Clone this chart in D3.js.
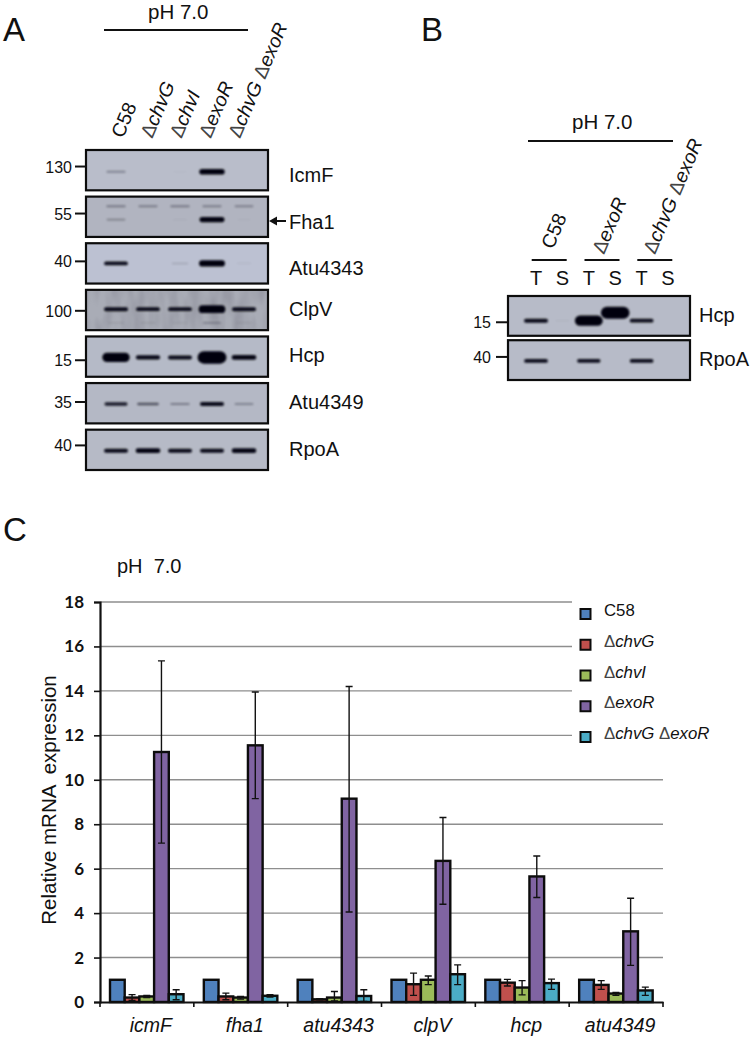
<!DOCTYPE html>
<html>
<head>
<meta charset="utf-8">
<script src="https://cdn.jsdelivr.net/npm/d3@7"></script>
<style>
    body { margin: 0; background: #fff; }
    text { font-family: "Liberation Sans", Arial, sans-serif; fill: #111; }
    .delta { fill: #444; }
</style>
</head>
<body>
<script>
//pseudo-global variables
var strainsA = ["C58", "\u0394chvG", "\u0394chvI", "\u0394exoR", "\u0394chvG \u0394exoR"];
var strainsB = ["C58", "\u0394exoR", "\u0394chvG \u0394exoR"];
var lanesB = ["T1", "S1", "T2", "S2", "T3", "S3"];
var fractions = ["T", "S", "T", "S", "T", "S"];

//blot panel A: names, size markers, band signal per lane (0 to 1) and migration inside the panel
var blotsA = ["IcmF", "Fha1", "Atu4343", "ClpV", "Hcp", "Atu4349", "RpoA"];
var markersA = ["130", "55", "40", "100", "15", "35", "40"];
var markerMigA = [0.41, 0.42, 0.45, 0.52, 0.59, 0.47, 0.39];
var icmfSignal = [0.19, 0, 0.02, 0.62, 0];
var fha1UpperSignal = [0.2, 0.19, 0.2, 0.19, 0.18];
var fha1LowerSignal = [0.18, 0, 0.03, 0.58, 0.02];
var atu4343Signal = [0.48, 0, 0.1, 0.66, 0.04];
var clpvSignal = [0.5, 0.48, 0.48, 0.72, 0.5];
var clpvSmearSignal = [0.07, 0.07, 0.05, 0.16, 0.06];
var hcpSignal = [0.78, 0.52, 0.5, 0.9, 0.55];
var atu4349Signal = [0.42, 0.3, 0.2, 0.5, 0.18];
var rpoaSignal = [0.5, 0.56, 0.5, 0.5, 0.55];

//blot panel B
var blotsB = ["Hcp", "RpoA"];
var markersB = ["15", "40"];
var markerMigB = [0.66, 0.42];
var hcpSignalB = [0.5, 0.03, 0.82, 0.88, 0.48, 0];
var hcpMigB = [0.62, 0.62, 0.62, 0.42, 0.62, 0.62];
var rpoaSignalB = [0.48, 0, 0.45, 0, 0.47, 0];

//qPCR chart values
var genes = ["icmF", "fha1", "atu4343", "clpV", "hcp", "atu4349"];
var seriesNames = ["C58", "\u0394chvG", "\u0394chvI", "\u0394exoR", "\u0394chvG \u0394exoR"];
var seriesColors = ["#4f81bd", "#c0504d", "#9bbb59", "#8064a2", "#4bacc6"];
var c58Values = [1, 1, 1, 1, 1, 1];
var chvgValues = [0.2, 0.25, 0.12, 0.8, 0.87, 0.77];
var chviValues = [0.25, 0.2, 0.2, 1.0, 0.65, 0.38];
var exorValues = [11.25, 11.55, 9.15, 6.35, 5.65, 3.18];
var doubleValues = [0.35, 0.28, 0.27, 1.25, 0.85, 0.52];
var chvgHigh = [0.33, 0.4, 0.15, 1.3, 1.02, 0.96];
var chvgLow = [0.07, 0.1, 0.1, 0.3, 0.72, 0.57];
var chviHigh = [0.3, 0.25, 0.47, 1.17, 0.96, 0.43];
var chviLow = [0.2, 0.13, 0.05, 0.78, 0.32, 0.3];
var exorHigh = [15.35, 13.95, 14.2, 8.3, 6.57, 4.67];
var exorLow = [7.15, 9.15, 4.05, 4.4, 4.7, 1.65];
var doubleHigh = [0.55, 0.33, 0.55, 1.67, 1.03, 0.67];
var doubleLow = [0.1, 0.22, 0.02, 0.78, 0.57, 0.3];
var yTicks = [0, 2, 4, 6, 8, 10, 12, 14, 16, 18];

var width = 753,
    height = 1042;

var svg = d3.select("body")
    .append("svg")
    .attr("width", width)
    .attr("height", height);

//soft edges for the film bands and a mottled film for the rough panel
var defs = svg.append("defs");
defs.append("filter").attr("id", "soft")
    .attr("x", "-30%").attr("y", "-150%").attr("width", "160%").attr("height", "400%")
    .append("feGaussianBlur").attr("stdDeviation", 0.9);
var mottle = defs.append("filter").attr("id", "mottle");
mottle.append("feTurbulence").attr("type", "fractalNoise")
    .attr("baseFrequency", "0.09 0.03").attr("numOctaves", 2).attr("seed", 4);
mottle.append("feColorMatrix").attr("values", "0 0 0 0 0.2  0 0 0 0 0.2  0 0 0 0 0.25  0 0 0 0.8 -0.25");
mottle.append("feComposite").attr("in2", "SourceGraphic").attr("operator", "in");

//signal to band shape
var bandHeight = d3.scaleLinear().domain([0, 0.25, 0.5, 0.65, 1]).range([1, 2.2, 4, 6, 15]);
var bandWidth = d3.scaleLinear().domain([0, 0.25, 0.5, 1]).range([13, 21, 24, 30]);
var bandOpacity = d3.scaleLinear().domain([0, 0.1, 0.25, 0.45, 0.6]).range([0, 0.14, 0.42, 0.92, 1]).clamp(true);

//write a strain name with an upright delta and an italic gene
function strainText(sel, name){
    name.split(" ").forEach(function(part, i){
        if (i > 0) sel.append("tspan").text(" ");
        if (part.charAt(0) == "\u0394"){
            sel.append("tspan").attr("class", "delta").text("\u0394");
            sel.append("tspan").style("font-style", "italic").text(part.slice(1));
        } else {
            sel.append("tspan").text(part);
        };
    });
};

function drawBlot(g, x, y, name, fill, bands, x0, x1){
    var panel = g.append("g").attr("transform", "translate(0," + y(name) + ")");
    var h = y.bandwidth();

    panel.append("rect")
        .attr("x", x0).attr("y", 0)
        .attr("width", x1 - x0).attr("height", h)
        .attr("fill", fill);

    if (name == "ClpV"){
        panel.append("rect")
            .attr("x", x0).attr("y", 0)
            .attr("width", x1 - x0).attr("height", h)
            .attr("fill", "#555")
            .attr("filter", "url(#mottle)");
    };

    panel.selectAll(".band")
        .data(bands)
        .enter()
        .append("rect")
        .attr("class", "band")
        .attr("x", function(d){ return x(d.lane) - bandWidth(d.signal) / 2; })
        .attr("y", function(d){ return d.mig * h - bandHeight(d.signal) / 2; })
        .attr("width", function(d){ return bandWidth(d.signal); })
        .attr("height", function(d){ return bandHeight(d.signal); })
        .attr("rx", function(d){ return bandHeight(d.signal) / 2; })
        .attr("fill", "#05060c")
        .attr("opacity", function(d){ return bandOpacity(d.signal); })
        .attr("filter", "url(#soft)");

    panel.append("rect")
        .attr("x", x0).attr("y", 0)
        .attr("width", x1 - x0).attr("height", h)
        .attr("fill", "none")
        .attr("stroke", "#0c0c0c")
        .attr("stroke-width", 2.2);
    return panel;
};

function bandsOf(lanes, signal, mig){
    return lanes.map(function(lane, i){
        return { lane: lane, signal: signal[i], mig: Array.isArray(mig) ? mig[i] : mig };
    }).filter(function(d){ return d.signal > 0; });
};

/* ---- panel A ---- */
var panelA = svg.append("g");

svg.append("text").attr("x", 3).attr("y", 41).style("font-size", "33px").text("A");
svg.append("text").attr("x", 148).attr("y", 19).style("font-size", "20.5px").text("pH 7.0");
svg.append("line").attr("x1", 104).attr("x2", 248).attr("y1", 30).attr("y2", 30)
    .attr("stroke", "#111").attr("stroke-width", 2);

var laneA = d3.scalePoint().domain(strainsA).range([116, 244]);
var labelA = d3.scalePoint().domain(strainsA).range([123, 240]);
var rowA = d3.scaleBand().domain(blotsA).range([150, 470]).paddingInner(0.135);

var bandsA = {
    "IcmF": bandsOf(strainsA, icmfSignal, 0.54),
    "Fha1": bandsOf(strainsA, fha1UpperSignal, 0.24).concat(bandsOf(strainsA, fha1LowerSignal, 0.57)),
    "Atu4343": bandsOf(strainsA, atu4343Signal, 0.5),
    "ClpV": bandsOf(strainsA, clpvSignal, 0.48).concat(bandsOf(strainsA, clpvSmearSignal, 0.82)),
    "Hcp": bandsOf(strainsA, hcpSignal, 0.52),
    "Atu4349": bandsOf(strainsA, atu4349Signal, 0.52),
    "RpoA": bandsOf(strainsA, rpoaSignal, 0.52)
};
var fillA = { "IcmF": "#b9bdca", "Fha1": "#b1b4c0", "Atu4343": "#bcc1d2", "ClpV": "#a9acb6", "Hcp": "#b5bac7", "Atu4349": "#b4b8c5", "RpoA": "#b6bac6" };

blotsA.forEach(function(name, i){
    drawBlot(panelA, laneA, rowA, name, fillA[name], bandsA[name], 86, 268);

    //size marker and tick
    var my = rowA(name) + markerMigA[i] * rowA.bandwidth();
    panelA.append("line").attr("x1", 75).attr("x2", 86).attr("y1", my).attr("y2", my)
        .attr("stroke", "#111").attr("stroke-width", 2);
    panelA.append("text").attr("x", 72).attr("y", my + 6)
        .attr("text-anchor", "end").style("font-size", "16px").text(markersA[i]);

    //protein name
    panelA.append("text").attr("x", 289).attr("y", rowA(name) + 32 - (i > 2 ? 6 : 0))
        .style("font-size", "20px").text(name);
});

//arrow to the Fha1 band
panelA.append("line").attr("x1", 274).attr("x2", 286).attr("y1", 221).attr("y2", 221)
    .attr("stroke", "#111").attr("stroke-width", 2);
panelA.append("path").attr("d", d3.line()([[269, 221], [277, 216.5], [277, 225.5]])).attr("fill", "#111");

//rotated strain labels
strainsA.forEach(function(name){
    panelA.append("text")
        .attr("transform", "translate(" + labelA(name) + ",139) rotate(-67)")
        .style("font-size", "19.5px")
        .call(strainText, name);
});

/* ---- panel B ---- */
var panelB = svg.append("g");

svg.append("text").attr("x", 421).attr("y", 41).style("font-size", "33px").text("B");
svg.append("text").attr("x", 572).attr("y", 129).style("font-size", "20.5px").text("pH 7.0");
svg.append("line").attr("x1", 528).attr("x2", 673).attr("y1", 141).attr("y2", 141)
    .attr("stroke", "#111").attr("stroke-width", 2);

var laneB = d3.scalePoint().domain(lanesB).range([536, 668]);
var labelB = d3.scalePoint().domain(strainsB).range([553, 655]);
var rowB = d3.scaleBand().domain(blotsB).range([296, 380]).paddingInner(0.1);

var bandsB = {
    "Hcp": bandsOf(lanesB, hcpSignalB, hcpMigB),
    "RpoA": bandsOf(lanesB, rpoaSignalB, 0.52)
};

blotsB.forEach(function(name, i){
    drawBlot(panelB, laneB, rowB, name, "#b7bbc8", bandsB[name], 508, 690);

    var my = rowB(name) + markerMigB[i] * rowB.bandwidth();
    panelB.append("line").attr("x1", 496).attr("x2", 507).attr("y1", my).attr("y2", my)
        .attr("stroke", "#111").attr("stroke-width", 2);
    panelB.append("text").attr("x", 491).attr("y", my + 6)
        .attr("text-anchor", "end").style("font-size", "16px").text(markersB[i]);

    panelB.append("text").attr("x", 699).attr("y", rowB(name) + 26)
        .style("font-size", "20px").text(name);
});

//T and S lane letters
panelB.selectAll(".fraction")
    .data(lanesB)
    .enter()
    .append("text")
    .attr("class", "fraction")
    .attr("x", function(d){ return laneB(d); })
    .attr("y", 285)
    .attr("text-anchor", "middle")
    .style("font-size", "20px")
    .text(function(d, i){ return fractions[i]; });

//strain underline and rotated label over each T/S pair
strainsB.forEach(function(name, i){
    var mid = (laneB(lanesB[i * 2]) + laneB(lanesB[i * 2 + 1])) / 2;
    panelB.append("line").attr("x1", mid - 17.5).attr("x2", mid + 17.5).attr("y1", 260).attr("y2", 260)
        .attr("stroke", "#111").attr("stroke-width", 2);
    panelB.append("text")
        .attr("transform", "translate(" + labelB(name) + "," + (i == 0 ? 250 : 255) + ") rotate(-67)")
        .style("font-size", "19.5px")
        .call(strainText, name);
});

/* ---- panel C ---- */
svg.append("text").attr("x", 3).attr("y", 541).style("font-size", "33px").text("C");
svg.append("text").attr("x", 117).attr("y", 573).style("font-size", "20px")
    .style("white-space", "pre").text("pH  7.0");

var x = d3.scaleBand().domain(genes).range([100, 663]);
var xSeries = d3.scaleBand().domain(seriesNames).range([10, 83.5]);
var y = d3.scaleLinear().domain([0, 18]).range([1002, 602]);

var valueTable = [c58Values, chvgValues, chviValues, exorValues, doubleValues];
var highTable = [null, chvgHigh, chviHigh, exorHigh, doubleHigh];
var lowTable = [null, chvgLow, chviLow, exorLow, doubleLow];

//grid lines, the upper ones stop before the legend
svg.append("g").selectAll("line")
    .data(yTicks.filter(function(d){ return d > 0; }))
    .enter()
    .append("line")
    .attr("x1", 100)
    .attr("x2", function(d){ return d >= 12 ? 572 : 663; })
    .attr("y1", function(d){ return y(d); })
    .attr("y2", function(d){ return y(d); })
    .attr("stroke", "#8e8e8e")
    .attr("stroke-width", 1.4);

//bars and error bars, one group per series
seriesNames.forEach(function(name, s){
    var rows = genes.map(function(gene, i){
        return {
            gene: gene,
            value: valueTable[s][i],
            high: highTable[s] ? highTable[s][i] : null,
            low: lowTable[s] ? lowTable[s][i] : null
        };
    });
    var g = svg.append("g");

    g.selectAll("rect")
        .data(rows)
        .enter()
        .append("rect")
        .attr("x", function(d){ return x(d.gene) + xSeries(name); })
        .attr("y", function(d){ return y(d.value); })
        .attr("width", xSeries.bandwidth())
        .attr("height", function(d){ return y(0) - y(d.value); })
        .attr("fill", seriesColors[s])
        .attr("stroke", "#0c0c0c")
        .attr("stroke-width", 2.4);

    g.selectAll(".err")
        .data(rows.filter(function(d){ return d.high !== null; }))
        .enter()
        .append("path")
        .attr("class", "err")
        .attr("d", function(d){
            var cx = x(d.gene) + xSeries(name) + xSeries.bandwidth() / 2;
            return "M" + (cx - 3.5) + "," + y(d.high) + "H" + (cx + 3.5) +
                "M" + cx + "," + y(d.high) + "V" + y(d.low) +
                "M" + (cx - 3.5) + "," + y(d.low) + "H" + (cx + 3.5);
        })
        .attr("fill", "none")
        .attr("stroke", "#111")
        .attr("stroke-width", 1.4);
});

//y axis
var yAxis = svg.append("g")
    .attr("transform", "translate(100,0)")
    .call(d3.axisLeft(y).tickValues(yTicks).tickSize(6).tickPadding(10).tickFormat(d3.format("d")));
yAxis.selectAll("text").style("font-family", "Lato, sans-serif").style("font-weight", "bold").style("font-size", "17px").attr("fill", "#111");
yAxis.selectAll("line").attr("stroke", "#111").attr("stroke-width", 1.6);
yAxis.select(".domain").attr("stroke", "#111").attr("stroke-width", 2.2);

//x axis, ticks sit on the borders between genes
var xAxis = svg.append("g")
    .attr("transform", "translate(0,1002)")
    .call(d3.axisBottom(x).tickSize(0).tickPadding(16));
xAxis.selectAll("text")
    .attr("dx", 4)
    .style("font-family", "\"Liberation Sans\", Arial, sans-serif")
    .style("font-style", "italic")
    .style("font-size", "19.5px")
    .attr("fill", "#111");
xAxis.select(".domain").attr("stroke", "#111").attr("stroke-width", 2);
xAxis.selectAll(".border")
    .data(genes.concat(["end"]))
    .enter()
    .append("line")
    .attr("class", "border")
    .attr("x1", function(d, i){ return x.range()[0] + i * x.step(); })
    .attr("x2", function(d, i){ return x.range()[0] + i * x.step(); })
    .attr("y1", 0)
    .attr("y2", 5)
    .attr("stroke", "#111")
    .attr("stroke-width", 1.6);

//y axis title
svg.append("text")
    .attr("transform", "translate(56,800) rotate(-90)")
    .attr("text-anchor", "middle")
    .style("font-size", "20.5px")
    .style("white-space", "pre")
    .text("Relative mRNA  expression");

//legend
var legendY = d3.scalePoint().domain(seriesNames).range([614, 737]);
var legend = svg.append("g").selectAll("g")
    .data(seriesNames)
    .enter()
    .append("g")
    .attr("transform", function(d){ return "translate(0," + legendY(d) + ")"; });

legend.append("rect")
    .attr("x", 580.5).attr("y", -5)
    .attr("width", 10).attr("height", 10)
    .attr("fill", function(d, i){ return seriesColors[i]; })
    .attr("stroke", "#0c0c0c")
    .attr("stroke-width", 2);

legend.append("text")
    .attr("x", 604)
    .attr("y", 2)
    .style("font-size", "16.8px")
    .each(function(d){ d3.select(this).call(strainText, d); });
</script>
</body>
</html>
